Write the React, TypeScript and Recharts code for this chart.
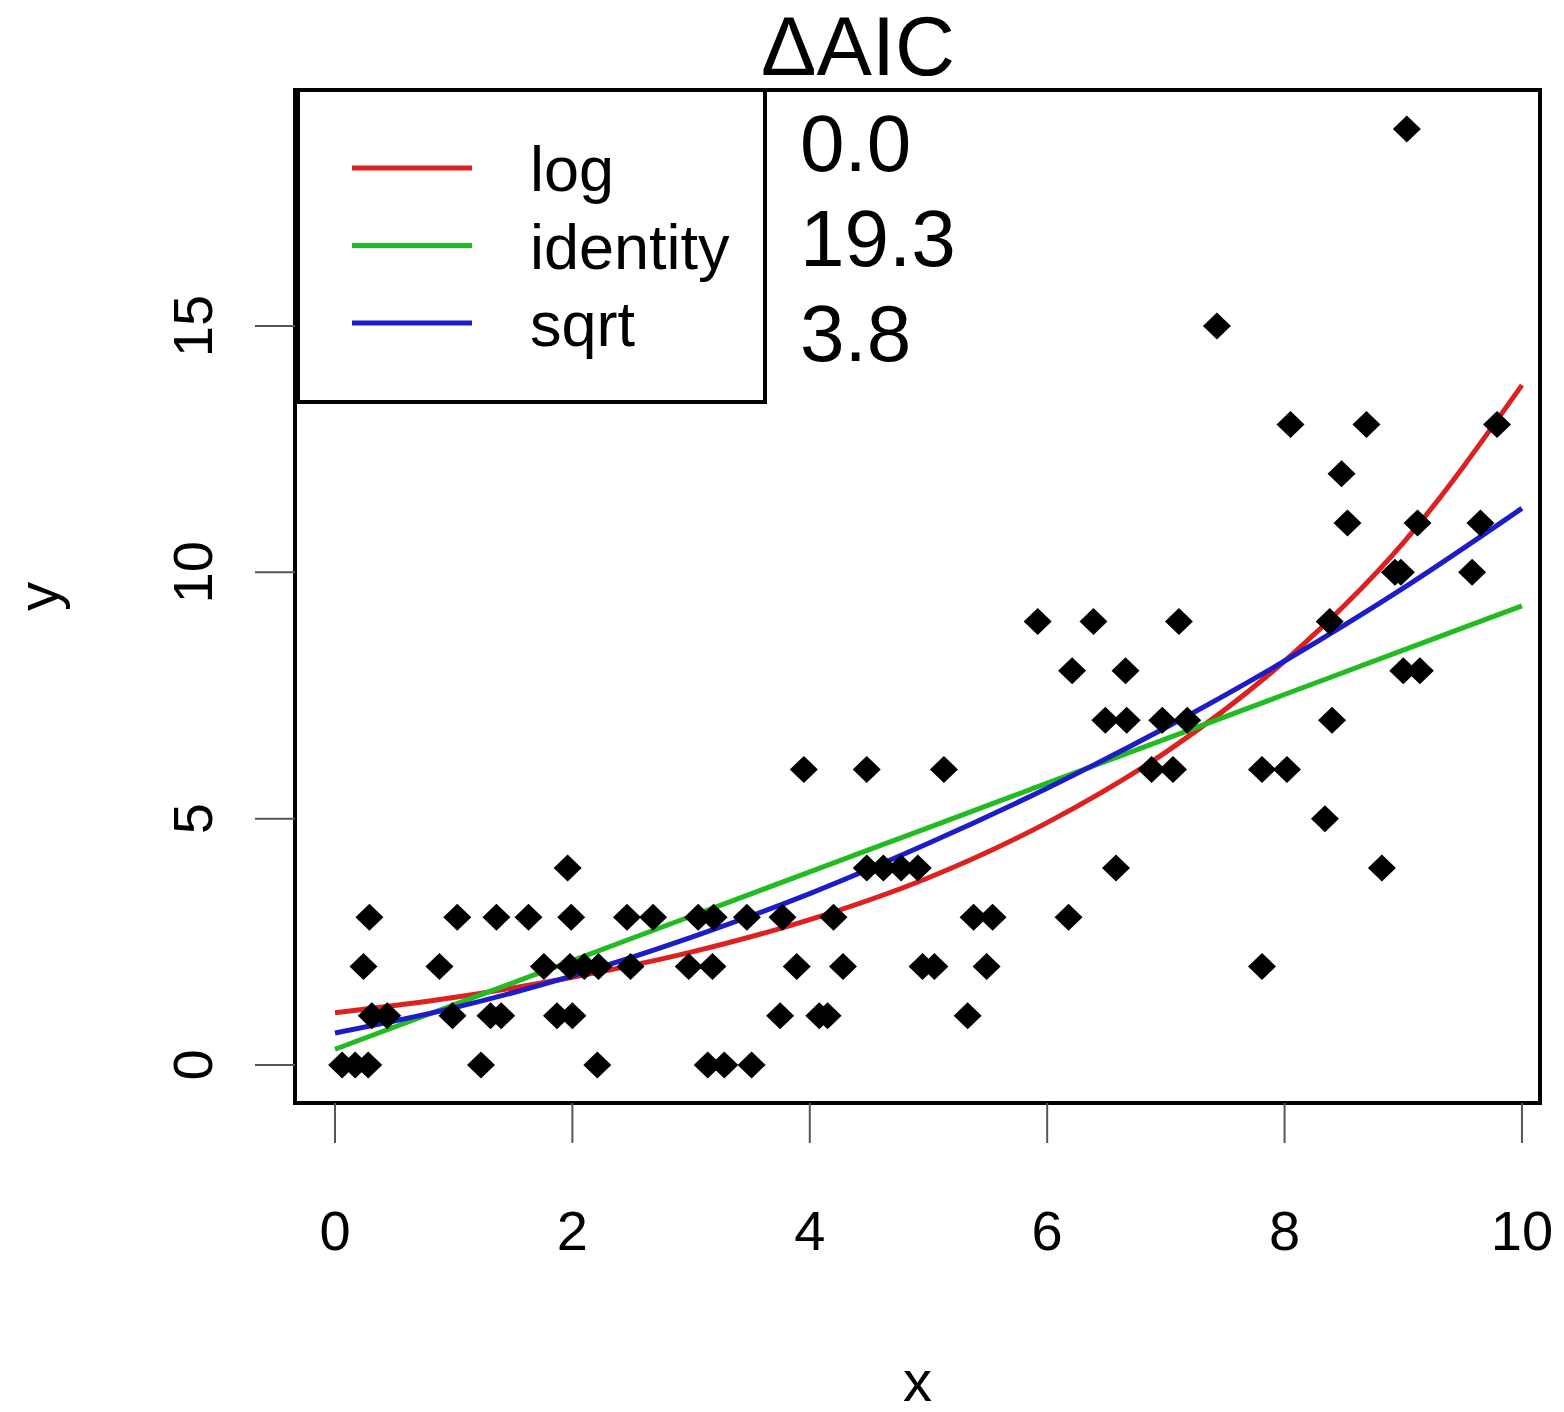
import React from 'react';
import { ComposedChart, Scatter, Line, XAxis, YAxis, ReferenceArea, Legend, Label } from 'recharts';

const FONT = '"Liberation Sans", Arial, Helvetica, sans-serif';

// axis ranges (R style, 4% padding around the data)
const X_DOMAIN = [-0.337, 10.152];
const Y_DOMAIN = [-0.771, 19.79];
const X_TICKS = [0, 2, 4, 6, 8, 10];
const Y_TICKS = [0, 5, 10, 15];

// observed points (x, count)
const obsX = [
  0.06, 0.17, 0.28, 1.23, 2.21, 3.14, 3.28, 3.51,
  0.31, 0.44, 0.99, 1.31, 1.4, 1.87, 2.0, 3.75, 4.08, 4.15, 5.33,
  0.24, 0.88, 1.76, 1.98, 2.1, 2.22, 2.49, 2.98, 3.18, 3.89, 4.28, 4.95, 5.05, 5.49, 7.81,
  0.29, 1.03, 1.36, 1.63, 1.99, 2.46, 2.68, 3.06, 3.19, 3.47, 3.77, 4.2, 5.38, 5.54, 6.18,
  1.96, 4.48, 4.62, 4.77, 4.91, 6.58, 8.82,
  8.34,
  3.95, 4.48, 5.13, 6.88, 7.06, 7.81, 8.02,
  6.49, 6.67, 6.97, 7.18, 8.4,
  6.21, 6.66, 9.0, 9.14,
  5.92, 6.39, 7.11, 8.38,
  8.93, 8.98, 9.58,
  8.53, 9.12, 9.65,
  8.48,
  8.05, 8.69, 9.79,
  7.43,
  9.03,
];
const obsY = [
  0, 0, 0, 0, 0, 0, 0, 0,
  1, 1, 1, 1, 1, 1, 1, 1, 1, 1, 1,
  2, 2, 2, 2, 2, 2, 2, 2, 2, 2, 2, 2, 2, 2, 2,
  3, 3, 3, 3, 3, 3, 3, 3, 3, 3, 3, 3, 3, 3, 3,
  4, 4, 4, 4, 4, 4, 4,
  5,
  6, 6, 6, 6, 6, 6, 6,
  7, 7, 7, 7, 7,
  8, 8, 8, 8,
  9, 9, 9, 9,
  10, 10, 10,
  11, 11, 11,
  12,
  13, 13, 13,
  15,
  19,
];

const fitX = [0, 1, 2, 3, 4, 5, 6, 7, 8, 9, 10];
const fitLog = [1.06, 1.37, 1.78, 2.29, 2.95, 3.8, 4.92, 6.35, 8.2, 10.6, 13.8];
const fitIdentity = [0.32, 1.22, 2.12, 3.02, 3.92, 4.82, 5.72, 6.62, 7.52, 8.42, 9.32];
const fitSqrt = [0.65, 1.16, 1.81, 2.59, 3.48, 4.5, 5.62, 6.85, 8.2, 9.68, 11.3];

const seriesNames = ['log', 'identity', 'sqrt'];
const seriesColors = ['#dd2020', '#22bb22', '#1c1cc8'];
const deltaAIC = ['0.0', '19.3', '3.8'];

const points = obsX.map((x, i) => ({ x, y: obsY[i] }));
const toSeries = (ys: number[]) => fitX.map((x, i) => ({ x, y: ys[i] }));
const fits = [fitLog, fitIdentity, fitSqrt];

const Diamond = (p: any) => (
  <polygon
    points={`${p.cx},${p.cy - 13.5} ${p.cx + 14},${p.cy} ${p.cx},${p.cy + 13.5} ${p.cx - 14},${p.cy}`}
    fill="#000"
  />
);

const YTick = ({ x, y, payload }: any) => (
  <text x={x} y={y} transform={`rotate(-90 ${x} ${y})`} textAnchor="middle"
    fontSize={56} fontFamily={FONT} fill="#000">
    {payload.value}
  </text>
);

// legend box with the ΔAIC column next to it, in the order of seriesNames
const AicLegend = () => (
  <svg width={720} height={410} style={{ display: 'block', overflow: 'visible' }}>
    <text x={568} y={75} textAnchor="middle" fontSize={83} fontFamily={FONT} fill="#000">ΔAIC</text>
    <rect x={8} y={90} width={467} height={312} fill="#fff" stroke="#000" strokeWidth={4} />
    {seriesNames.map((name, i) => (
      <g key={name}>
        <line x1={62} x2={182} y1={168 + i * 77.5} y2={168 + i * 77.5} stroke={seriesColors[i]} strokeWidth={5} />
        <text x={240} y={191 + i * 77.5} fontSize={63} fontFamily={FONT} fill="#000">{name}</text>
        <text x={510} y={171 + i * 95} fontSize={80} fontFamily={FONT} fill="#000">{deltaAIC[i]}</text>
      </g>
    ))}
  </svg>
);

export default function App() {
  return (
    <div style={{ width: 1564, height: 1412, background: '#fff' }}>
      <style>{'body{margin:0}'}</style>
      <ComposedChart width={1564} height={1412} margin={{ top: 90, right: 24, left: 0, bottom: 0 }}>
        <XAxis type="number" dataKey="x" domain={X_DOMAIN} ticks={X_TICKS} allowDataOverflow
          height={309} axisLine={false} tickLine={{ stroke: '#555', strokeWidth: 2 }}
          tickSize={40} tickMargin={67}
          tick={{ fontSize: 56, fontFamily: FONT, fill: '#000' }}>
          <Label
            content={({ viewBox }: any) => (
              <text x={viewBox.x + viewBox.width / 2} y={1401} textAnchor="middle"
                fontSize={58} fontFamily={FONT} fill="#000">x</text>
            )}
          />
        </XAxis>
        <YAxis type="number" dataKey="y" domain={Y_DOMAIN} ticks={Y_TICKS} allowDataOverflow
          width={295} axisLine={false} tickLine={{ stroke: '#555', strokeWidth: 2 }}
          tickSize={40} tickMargin={43} tick={<YTick />}>
          <Label
            content={({ viewBox }: any) => {
              const cx = 58;
              const cy = viewBox.y + viewBox.height / 2;
              return (
                <text x={cx} y={cy} transform={`rotate(-90 ${cx} ${cy})`} textAnchor="middle"
                  fontSize={58} fontFamily={FONT} fill="#000">y</text>
              );
            }}
          />
        </YAxis>
        <ReferenceArea x1={X_DOMAIN[0]} x2={X_DOMAIN[1]} y1={Y_DOMAIN[0]} y2={Y_DOMAIN[1]}
          fill="none" stroke="#000" strokeWidth={4} />
        <Scatter data={points} shape={<Diamond />} legendType="none" isAnimationActive={false} />
        {fits.map((ys, i) => (
          <Line key={seriesNames[i]} data={toSeries(ys)} dataKey="y" name={seriesNames[i]} type="monotone"
            stroke={seriesColors[i]} strokeWidth={5} dot={false} activeDot={false} isAnimationActive={false} />
        ))}
        <Legend layout="horizontal" verticalAlign="middle" align="center" content={<AicLegend />}
          wrapperStyle={{ left: 290, top: 0, width: 720, height: 410 }} />
      </ComposedChart>
    </div>
  );
}
